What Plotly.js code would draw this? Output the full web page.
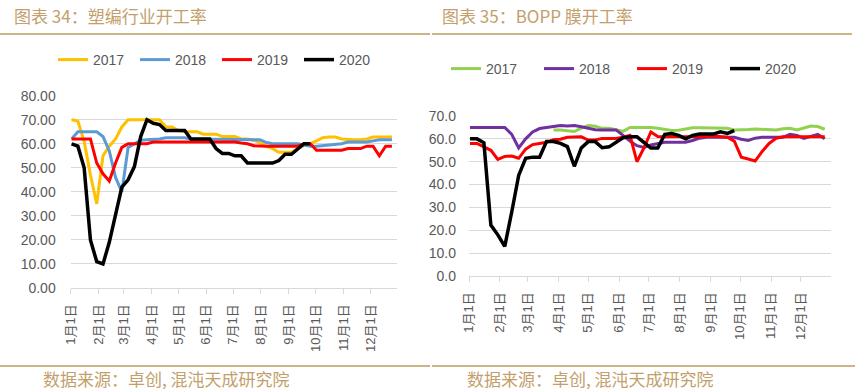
<!DOCTYPE html>
<html>
<head>
<meta charset="utf-8">
<script src="https://cdn.plot.ly/plotly-3.0.1.min.js"></script>
<style>
  html, body { margin: 0; padding: 0; background: #ffffff; }
  #chart { width: 855px; height: 390px; }
</style>
</head>
<body>
<div id="chart"></div>
<script>
// ---------- data ----------
const monthTickDays = [0, 31, 59, 90, 120, 151, 181, 212, 243, 273, 304, 334];
const monthTickText = ["1月1日", "2月1日", "3月1日", "4月1日", "5月1日", "6月1日",
                       "7月1日", "8月1日", "9月1日", "10月1日", "11月1日", "12月1日"];
const years = ["2017", "2018", "2019", "2020"];

// 塑编行业开工率 (weekly)
const weaving2017 = [70, 69.5, 61, 47, 35, 55, 59, 62, 67, 70, 70, 70, 70, 70, 70, 67, 67, 65.5, 65, 65,
  65, 64, 64, 64, 63, 63, 63, 62, 62, 61.5, 60.5, 59, 58, 56.5, 56.5, 56.5, 58, 59.3, 60, 61.4,
  62.5, 62.8, 62.8, 62, 61.7, 61.7, 61.7, 62, 62.8, 62.8, 62.8, 62.8];
const weaving2018 = [62, 65, 65, 65, 65, 63, 57, 46, 40, 58.5, 60, 61.5, 61.7, 61.7, 62, 62.5, 62.5, 62.5, 62.5, 62,
  62, 61.7, 61.7, 61.7, 61.7, 61.7, 61.7, 61.7, 61.7, 61.7, 61.7, 60.5, 60, 60, 60, 60, 60, 59.5, 59, 59,
  59.3, 59.6, 59.6, 60, 60.7, 60.7, 60.7, 60.7, 61.2, 61.7, 61.7, 61.7];
const weaving2019 = [62, 62, 62, 62, 52, 47.5, 44.5, 52, 58.5, 60, 60, 60, 60, 60.7, 60.7, 60.7, 60.7, 60.7, 60.7, 60.7,
  60.7, 60.7, 60.7, 60.7, 60.7, 60.7, 60.7, 60.3, 60, 59.2, 59, 59, 59, 59, 59, 59, 59, 60, 60, 57.3,
  57.3, 57.3, 57.3, 57.3, 58, 58, 58, 59, 59, 55, 59, 59];
const weaving2020 = [60, 59, 50, 20, 11, 10, 19, 31, 42, 45, 50.5, 63, 70, 68.5, 68, 65.5, 65.5, 65.5, 65.5, 62,
  62, 62, 62, 58, 56, 56, 55, 55, 52, 52, 52, 52, 52, 53, 55.6, 55.6, 58, 60, 60];

// BOPP膜开工率 (weekly)
const bopp2017 = [null, null, null, null, null, null, null, null, null, null, null, null, 63.9, 63.9, 63.5, 63.2, 64.7, 65.8, 65.5, 64.6,
  64.6, 63.8, 63.3, 65, 65, 65, 65, 64.6, 64.2, 63.7, 63.8, 64.5, 64.9, 64.9, 64.9, 64.9, 64.9, 64.6, 63.9, 63.9,
  64.1, 64.3, 64.1, 63.9, 63.9, 64.4, 64.6, 63.9, 64.6, 65.6, 65.4, 64.2];
const bopp2018 = [65, 65, 65, 65, 65, 65, 62, 56, 60, 63, 64.5, 64.9, 65.5, 65.8, 65.6, 65.8, 65.3, 64.5, 64, 63.9,
  63.9, 63.9, 61.5, 59, 57, 56.2, 57.3, 57.8, 58.5, 58.5, 58.5, 58.5, 59.3, 60.3, 60.7, 60.7, 60.7, 60.7, 60.7, 59.8,
  59.3, 60.3, 60.7, 60.7, 60.7, 60.7, 62, 61.5, 60.2, 61, 62, 60];
const bopp2019 = [58, 58, 56.5, 55, 51, 52.3, 52.5, 51.5, 55.5, 57.5, 58, 58.5, 59.6, 59.8, 60.7, 60.9, 60.9, 59.5, 59.5, 60.2,
  60.2, 60.2, 60.7, 61.5, 50, 56, 63, 61, 60.9, 60.9, 60.9, 60.9, 60.7, 60.7, 61, 61.2, 61, 60.7, 59, 52,
  51.2, 50.3, 54.5, 58, 60.2, 60.9, 60.9, 60.9, 60.9, 60.9, 60.9, 60.9];
const bopp2020 = [60, 60, 58.3, 22.3, 18, 13, 28, 44, 51.5, 52, 52, 58.8, 58.8, 58, 56.6, 48, 56, 58.8, 58.8, 56.1,
  56.5, 58.5, 60.5, 60.9, 60.9, 58.5, 56, 56, 62, 62.3, 61.5, 60, 61.5, 62.1, 62.1, 62.1, 63.1, 62.4, 63.6];

// ---------- build ----------
const weekDay = arr => arr.map((_, i) => 1 + 7 * i);

const leftColors = ["#FFC000", "#5B9BD5", "#FF0000", "#000000"];
const rightColors = ["#92D050", "#7030A0", "#FF0000", "#000000"];
const leftSeries = [weaving2017, weaving2018, weaving2019, weaving2020];
const rightSeries = [bopp2017, bopp2018, bopp2019, bopp2020];

const traces = [];
leftSeries.forEach((ys, k) => {
  traces.push({
    type: "scatter", mode: "lines", name: years[k],
    x: weekDay(ys), y: ys, xaxis: "x", yaxis: "y", legend: "legend",
    line: { color: leftColors[k], width: k === 3 ? 3.5 : 3 },
    connectgaps: false, hoverinfo: "skip"
  });
});
rightSeries.forEach((ys, k) => {
  traces.push({
    type: "scatter", mode: "lines", name: years[k],
    x: weekDay(ys), y: ys, xaxis: "x2", yaxis: "y2", legend: "legend2",
    line: { color: rightColors[k], width: k === 3 ? 3.5 : 3 },
    connectgaps: false, hoverinfo: "skip"
  });
});

const W = 855, H = 390;
const px = v => v / W;
const py = v => 1 - v / H;

const tickFont = { family: "Liberation Sans, Arial, 'Noto Sans CJK SC', sans-serif", size: 14, color: "#595959" };
const xTickFont = { family: "Liberation Sans, Arial, 'Noto Sans CJK SC', sans-serif", size: 13, color: "#595959" };

function xAxis(domain) {
  return {
    domain: domain, type: "linear", range: [0, 364],
    tickmode: "array", tickvals: monthTickDays, ticktext: monthTickText,
    tickangle: -90, tickfont: xTickFont,
    showgrid: false, zeroline: false,
    showline: true, linecolor: "#D9D9D9", linewidth: 1,
    ticks: "outside", ticklen: 5, tickcolor: "#D9D9D9", tickwidth: 1,
    ticklabelstandoff: 5, fixedrange: true
  };
}
function yAxis(domain, range, fmt, standoff) {
  return {
    domain: domain, range: range, dtick: 10, tick0: 0, tickformat: fmt,
    tickfont: tickFont, showgrid: true, gridcolor: "#D9D9D9", gridwidth: 1,
    zeroline: false, showline: false, ticks: "",
    ticklabelstandoff: standoff, fixedrange: true
  };
}

const titleColor = "#C3A06B";
const ruleColor = "#BE9A5E";
const cjkFont = "'Noto Sans CJK SC', 'Noto Sans CJK JP', sans-serif";

const layout = {
  width: W, height: H,
  margin: { l: 0, r: 0, t: 0, b: 0, pad: 0 },
  paper_bgcolor: "#ffffff", plot_bgcolor: "#ffffff",
  showlegend: true,
  xaxis: xAxis([px(70.7), px(397.3)]),
  yaxis: yAxis([py(288), py(95.7)], [0, 80], ".2f", 14),
  xaxis2: Object.assign(xAxis([px(469), px(830.7)]), { anchor: "y2" }),
  yaxis2: Object.assign(yAxis([py(276), py(116)], [0, 70], ".1f", 12), { anchor: "x2" }),
  legend: {
    orientation: "h", x: px(53), xanchor: "left", y: py(60), yanchor: "middle",
    font: tickFont, bgcolor: "rgba(0,0,0,0)", entrywidth: 37, entrywidthmode: "pixels",
    itemclick: false, itemdoubleclick: false
  },
  legend2: {
    orientation: "h", x: px(446), xanchor: "left", y: py(69), yanchor: "middle",
    font: tickFont, bgcolor: "rgba(0,0,0,0)", entrywidth: 48, entrywidthmode: "pixels",
    itemclick: false, itemdoubleclick: false
  },
  annotations: [
    { text: "图表 34：塑编行业开工率", xref: "paper", yref: "paper", x: px(12), y: py(15.5),
      xanchor: "left", yanchor: "middle", showarrow: false,
      font: { family: cjkFont, size: 17, color: titleColor } },
    { text: "图表 35：BOPP 膜开工率", xref: "paper", yref: "paper", x: px(440), y: py(15.5),
      xanchor: "left", yanchor: "middle", showarrow: false,
      font: { family: cjkFont, size: 17, color: titleColor } },
    { text: "数据来源：卓创, 混沌天成研究院", xref: "paper", yref: "paper", x: px(42), y: py(378),
      xanchor: "left", yanchor: "middle", showarrow: false, borderpad: 0,
      font: { family: cjkFont, size: 17, color: titleColor } },
    { text: "数据来源：卓创, 混沌天成研究院", xref: "paper", yref: "paper", x: px(466), y: py(378),
      xanchor: "left", yanchor: "middle", showarrow: false, borderpad: 0,
      font: { family: cjkFont, size: 17, color: titleColor } }
  ],
  shapes: [
    { type: "line", xref: "paper", yref: "paper", x0: px(0), x1: px(430), y0: py(34), y1: py(34),
      line: { color: ruleColor, width: 1.5 } },
    { type: "line", xref: "paper", yref: "paper", x0: px(432), x1: px(852), y0: py(34), y1: py(34),
      line: { color: ruleColor, width: 1.5 } },
    { type: "line", xref: "paper", yref: "paper", x0: px(0), x1: px(430), y0: py(366), y1: py(366),
      line: { color: ruleColor, width: 1.5 } },
    { type: "line", xref: "paper", yref: "paper", x0: px(432), x1: px(855), y0: py(366), y1: py(366),
      line: { color: ruleColor, width: 1.5 } }
  ]
};

Plotly.newPlot("chart", traces, layout, { displayModeBar: false, staticPlot: true });
</script>
</body>
</html>
